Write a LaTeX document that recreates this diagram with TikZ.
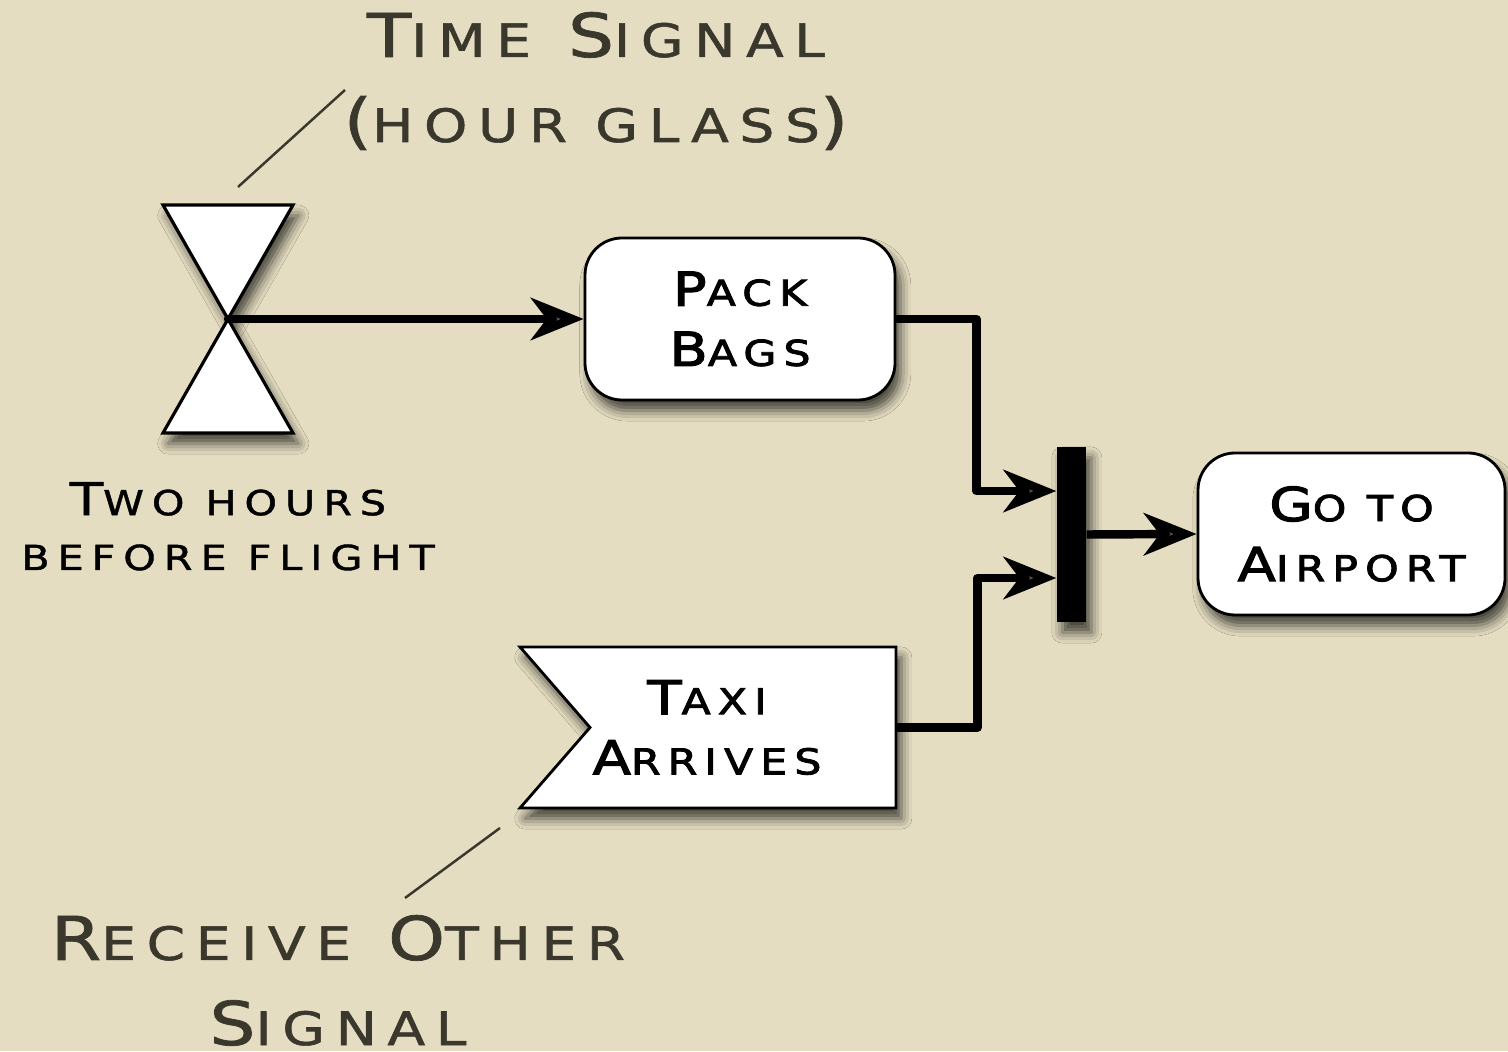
\documentclass[tikz,border=0pt]{standalone}
\usepackage{fontspec}
\usepackage{xcolor}
\usepackage{tikz}
\usetikzlibrary{arrows.meta, positioning, shapes.symbols, shadows.blur}
\newfontfamily\copper[FakeStretch=1.2, LetterSpace=23, FakeBold=1.2]{DejaVu Sans}
\newfontfamily\copperbox[FakeStretch=1.2, LetterSpace=20, FakeBold=2.4]{DejaVu Sans}
\definecolor{linen}{RGB}{229,221,193}
\definecolor{ink}{RGB}{58,55,44}
\makeatletter
\newcommand\lo[1]{{\fontsize{\dimexpr.76\dimexpr\f@size pt\relax\relax}{\f@baselineskip}\selectfont\MakeUppercase{#1}}}
\makeatother

\begin{document}
\begin{tikzpicture}[
    label/.style={font=\copper\fontsize{17.2}{24.2}\selectfont, text=ink, align=center, inner sep=0pt},
    smalllabel/.style={font=\copper\fontsize{12.9}{15.6}\selectfont, text=black, align=center, inner sep=0pt},
    shade/.style={blur shadow={shadow xshift=1.5pt, shadow yshift=-3pt, shadow blur radius=3pt, shadow opacity=70}},
    boxtext/.style={align=center, inner sep=0pt, font=\copperbox\fontsize{13.3}{17.1}\selectfont},
    task/.style={draw, line width=0.8pt, fill=white, rounded corners=3.7mm, minimum width=3.1cm, minimum height=1.62cm, boxtext, shade},
    signalbox/.style={draw, line width=0.8pt, fill=white, shape=signal, signal from=west, signal to=nowhere, signal pointer angle=98, minimum width=3.76cm, minimum height=1.61cm, inner sep=0pt, shade},
    syncbar/.style={fill=black, minimum width=0.29cm, minimum height=1.75cm, inner sep=0pt, shade},
    flow/.style={line width=2.4pt, -{Stealth[length=15pt, width=12pt, inset=4.5pt]}, line join=round},
    leader/.style={ink, line width=0.7pt},
  ]
  \fill[linen] (0,0) rectangle (15.08,10.51);
  \useasboundingbox (0,0) rectangle (15.08,10.51);

  % hour glass
  \coordinate (glass) at (2.28,7.32);
  \draw[line width=0.9pt, fill=white, shade] (1.63,8.46) -- (2.93,8.46) -- (glass) -- cycle;
  \draw[line width=0.9pt, fill=white, shade] (glass) -- (1.63,6.18) -- (2.93,6.18) -- cycle;

  \node[task] (pack) at (7.40,7.32) {P\lo{ack}\\B\lo{ags}};
  \node[syncbar] (sync) at (10.715,5.165) {};
  \node[task, minimum width=3.07cm] (airport) at (13.515,5.17) {G\lo{o to}\\A\lo{irport}};
  \node[signalbox] (taxi) at (7.43,3.235) {};
  \node[boxtext] (taxitext) at (7.07,3.235) {T\lo{axi}\\A\lo{rrives}};

  % labels
  \node[label, anchor=base] (timelabel) at (5.96,9.09) {T\lo{ime} S\lo{ignal}\\(\lo{hour glass})};
  \node[smalllabel, anchor=base] (twolabel) at (2.28,4.81) {T\lo{wo hours}\\\lo{before flight}};
  \node[label, anchor=base] (otherlabel) at (3.38,0.06) {R\lo{eceive} O\lo{ther}\\S\lo{ignal}};
  \draw[leader] (2.38,8.64) -- (3.45,9.61);
  \draw[leader] (5.00,2.23) -- (4.05,1.53);

  \draw[flow, line cap=round] (glass) -- (pack.west);
  \draw[flow] (pack.east) -- ++(0.8,0) |- ([yshift=4.35mm]sync.west);
  \draw[flow] (taxi.east) -- ++(0.8,0) |- ([yshift=-4.35mm]sync.west);
  \draw[flow] (sync.east) -- (airport.west);
\end{tikzpicture}
\end{document}
